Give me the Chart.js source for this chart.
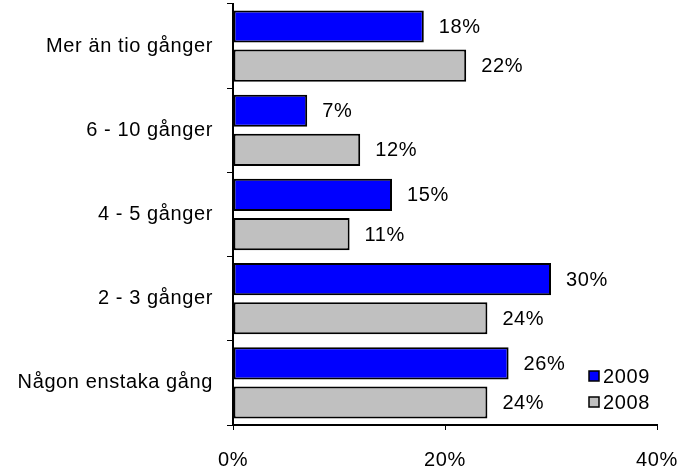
<!DOCTYPE html>
<html>
<head>
<meta charset="utf-8">
<script src="https://cdn.jsdelivr.net/npm/chart.js@4.4.1/dist/chart.umd.min.js"></script>
<style>
html,body{margin:0;padding:0;background:#fff;}
#wrap{width:677px;height:470px;position:relative;}
</style>
</head>
<body>
<div id="wrap"><canvas id="c" width="677" height="470"></canvas></div>
<script>
const categories = ["Mer än tio gånger", "6 - 10 gånger", "4 - 5 gånger", "2 - 3 gånger", "Någon enstaka gång"];
const seriesLabels = ["2009", "2008"];
const values2009 = [18, 7, 15, 30, 26];
const values2008 = [22, 12, 11, 24, 24];
const xTicks = [0, 20, 40];

const FONT = "'Liberation Sans', Arial, sans-serif";
const FSIZE = 20;

const spacing = {
  id: 'spacing',
  beforeInit(chart) { chart.ctx.letterSpacing = '0.6px'; },
  beforeDraw(chart) { chart.ctx.letterSpacing = '0.6px'; }
};

const valueLabels = {
  id: 'valueLabels',
  afterDatasetsDraw(chart) {
    const ctx = chart.ctx;
    ctx.save();
    ctx.font = FSIZE + "px " + FONT;
    ctx.fillStyle = '#000';
    ctx.textBaseline = 'middle';
    ctx.textAlign = 'left';
    chart.data.datasets.forEach((ds, i) => {
      const meta = chart.getDatasetMeta(i);
      meta.data.forEach((bar, j) => {
        ctx.fillText(ds.data[j] + '%', bar.x + 15, bar.y + 1);
      });
    });
    ctx.restore();
  }
};

const customLegend = {
  id: 'customLegend',
  afterDraw(chart) {
    const ctx = chart.ctx;
    const area = chart.chartArea;
    ctx.save();
    ctx.font = FSIZE + "px " + FONT;
    ctx.textBaseline = 'middle';
    ctx.textAlign = 'left';
    const x0 = area.right - 68;
    const y0 = area.bottom - 49;
    chart.data.datasets.forEach((ds, i) => {
      const y = y0 + i * 26;
      ctx.fillStyle = ds.backgroundColor;
      ctx.fillRect(x0, y - 5, 10, 10);
      ctx.strokeStyle = '#000';
      ctx.lineWidth = 1.5;
      ctx.strokeRect(x0, y - 5, 10, 10);
      ctx.fillStyle = '#000';
      ctx.fillText(ds.label, x0 + 14, y + 1);
    });
    ctx.restore();
  }
};

new Chart(document.getElementById('c'), {
  type: 'bar',
  data: {
    labels: categories,
    datasets: [
      { label: seriesLabels[0], data: values2009, backgroundColor: '#0000FF', borderColor: '#000', borderWidth: 2, borderSkipped: false },
      { label: seriesLabels[1], data: values2008, backgroundColor: '#C0C0C0', borderColor: '#000', borderWidth: 2, borderSkipped: false }
    ]
  },
  options: {
    indexAxis: 'y',
    responsive: false,
    animation: false,
    devicePixelRatio: 1,
    categoryPercentage: 0.93,
    barPercentage: 0.82,
    layout: { padding: { top: 4, right: 20, left: 0, bottom: 0 } },
    plugins: { legend: { display: false }, tooltip: { enabled: false } },
    scales: {
      x: {
        min: 0, max: 40,
        afterBuildTicks(axis) { axis.ticks = xTicks.map(v => ({ value: v })); },
        afterFit(axis) { axis.height = 45; axis.paddingLeft = 0; axis.paddingRight = 0; },
        border: { display: true, color: '#000', width: 2 },
        grid: { drawOnChartArea: false, drawTicks: true, tickLength: 5, color: '#000', lineWidth: 1 },
        ticks: { color: '#000', font: { family: FONT, size: FSIZE }, padding: 18, maxRotation: 0, callback: v => v + '%' }
      },
      y: {
        afterFit(axis) { axis.width = 233; axis.paddingTop = 0; axis.paddingBottom = 0; },
        border: { display: true, color: '#000', width: 2 },
        grid: { offset: true, drawOnChartArea: false, drawTicks: true, tickLength: 6, color: '#000', lineWidth: 1 },
        ticks: { color: '#000', font: { family: FONT, size: FSIZE }, padding: 14 }
      }
    }
  },
  plugins: [spacing, valueLabels, customLegend]
});
</script>
</body>
</html>
